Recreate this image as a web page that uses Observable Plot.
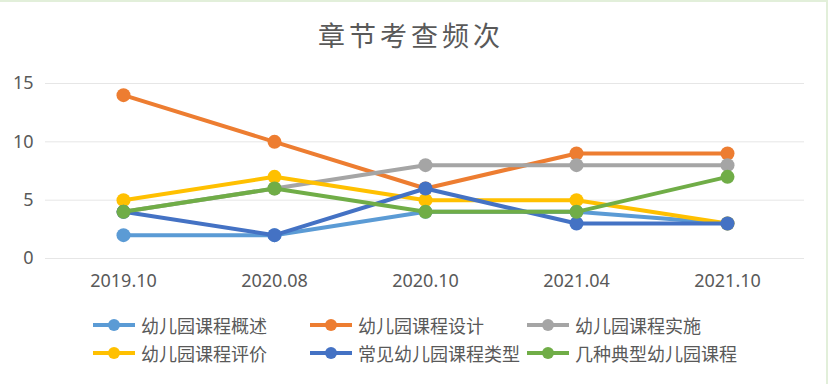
<!DOCTYPE html>
<html>
<head>
<meta charset="utf-8">
<script src="https://cdn.jsdelivr.net/npm/d3@7"></script>
<script src="https://cdn.jsdelivr.net/npm/@observablehq/plot@0.6"></script>
<style>
  html, body { margin: 0; padding: 0; background: #fff; }
  #wrap { position: relative; width: 828px; height: 384px; overflow: hidden; background: #fff; }
  #topline { position: absolute; left: 0; top: 0; width: 828px; height: 2px; background: #e2efda; }
  #rightline { position: absolute; right: 0; top: 0; width: 2px; height: 384px; background: #e2efda; }
  #title { position: absolute; left: 0; width: 822px; top: 16px; text-align: center;
           font-family: "Noto Sans CJK SC", sans-serif; font-size: 27px; letter-spacing: 4px;
           color: #595959; line-height: 38px; }
  #chart { position: absolute; left: 0; top: 0; }
  #legend { position: absolute; left: 93px; top: 311px; display: grid;
            grid-template-columns: 217px 217px 217px; grid-auto-rows: 28px;
            font-family: "Noto Sans CJK SC", "Noto Sans", sans-serif; font-size: 18px; color: #595959; }
  .item { display: flex; align-items: center; white-space: nowrap; }
  .sw { position: relative; width: 42px; height: 14px; margin-right: 6px; flex: none; }
  .sw .ln { position: absolute; left: 0; right: 0; top: 5px; height: 4px; }
  .sw .dt { position: absolute; left: 15px; top: 1px; width: 12px; height: 12px; border-radius: 50%; }
</style>
</head>
<body>
<div id="wrap">
  <div id="topline"></div>
  <div id="rightline"></div>
  <div id="chart"></div>
  <div id="title">章节考查频次</div>
  <div id="legend"></div>
</div>
<script>
const categories = ["2019.10", "2020.08", "2020.10", "2021.04", "2021.10"];
const seriesNames = ["幼儿园课程概述", "幼儿园课程设计", "幼儿园课程实施", "幼儿园课程评价", "常见幼儿园课程类型", "几种典型幼儿园课程"];
const gaishu  = [2, 2, 4, 4, 3];
const sheji   = [14, 10, 6, 9, 9];
const shishi  = [4, 6, 8, 8, 8];
const pingjia = [5, 7, 5, 5, 3];
const leixing = [4, 2, 6, 3, 3];
const dianxing = [4, 6, 4, 4, 7];
const yTicks = [0, 5, 10, 15];
const colors = ["#5B9BD5", "#ED7D31", "#A5A5A5", "#FFC000", "#4472C4", "#70AD47"];

const allValues = [gaishu, sheji, shishi, pingjia, leixing, dianxing];
const seriesRows = seriesNames.map((name, i) =>
  categories.map((cat, j) => ({ name, cat, value: allValues[i][j] }))
);

const marks = [
  Plot.ruleY(yTicks, { stroke: "#e6e6e6", strokeWidth: 1 }),
  Plot.axisY({ ticks: yTicks, tickSize: 0, tickPadding: 12, fontSize: 18 }),
  Plot.axisX({ tickSize: 0, tickPadding: 16, fontSize: 18 })
];
seriesRows.forEach((rows, i) => {
  marks.push(Plot.lineY(rows, { x: "cat", y: "value", stroke: colors[i], strokeWidth: 4 }));
  marks.push(Plot.dot(rows, { x: "cat", y: "value", fill: colors[i], r: 7 }));
});

const chart = Plot.plot({
  width: 828,
  height: 300,
  marginTop: 83,
  marginBottom: 42,
  marginLeft: 45,
  marginRight: 24,
  style: { fontFamily: "'Noto Sans', sans-serif", fontSize: "18px", color: "#595959", background: "transparent" },
  x: { type: "point", domain: categories, padding: 0.5, label: null },
  y: { domain: [0, 15], label: null },
  marks
});
document.getElementById("chart").appendChild(chart);

const legend = document.getElementById("legend");
const order = [0, 1, 2, 3, 4, 5];
order.forEach(i => {
  const item = document.createElement("div");
  item.className = "item";
  item.innerHTML = `<span class="sw"><span class="ln" style="background:${colors[i]}"></span><span class="dt" style="background:${colors[i]}"></span></span><span>${seriesNames[i]}</span>`;
  legend.appendChild(item);
});
</script>
</body>
</html>
